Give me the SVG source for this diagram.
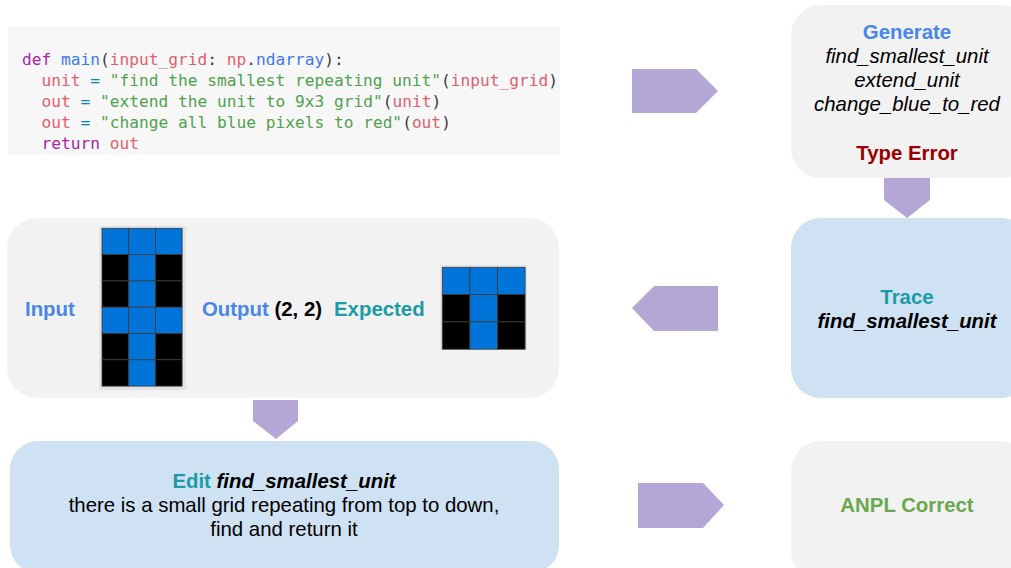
<svg xmlns="http://www.w3.org/2000/svg" width="1011" height="568" viewBox="0 0 1011 568">
  <style>
    .code { font-family: "DejaVu Sans Mono", "Liberation Mono", monospace; font-size: 16.2px; fill: #383a42; }
    .kw { fill: #a626a4; }
    .fn { fill: #4078f2; }
    .var { fill: #e0606e; }
    .op { fill: #0184bc; }
    .str { fill: #50a14f; }
    .lbl { font-family: "Liberation Sans", Arial, sans-serif; font-size: 20.4px; fill: #000; }
    .b { font-weight: bold; }
    .i { font-style: italic; }
    .mid { text-anchor: middle; }
    .blue { fill: #4a86e8; }
    .teal { fill: #1b9ba6; }
    .red { fill: #990000; }
    .green { fill: #6aa84f; }
    .grey-box { fill: #f2f2f2; }
    .blue-box { fill: #cfe2f3; }
    .arrow { fill: #b4a7d6; }
    .cb { fill: #0074d9; stroke: #3a3a3a; stroke-width: 0.8; }
    .ck { fill: #000; stroke: #3a3a3a; stroke-width: 0.8; }
    .frame { fill: #e4e4e4; }
  </style>

  <!-- program sketch -->
  <g id="code">
    <rect x="8" y="27" width="552" height="128" fill="#f7f7f7"/>
    <text class="code" x="22" y="65"><tspan class="kw">def</tspan> <tspan class="fn">main</tspan>(<tspan class="var">input_grid</tspan>: <tspan class="var">np</tspan>.<tspan class="fn">ndarray</tspan>):</text>
    <text class="code" x="22" y="86" xml:space="preserve">  <tspan class="var">unit</tspan> <tspan class="op">=</tspan> <tspan class="str">"find the smallest repeating unit"</tspan>(<tspan class="var">input_grid</tspan>)</text>
    <text class="code" x="22" y="107" xml:space="preserve">  <tspan class="var">out</tspan> <tspan class="op">=</tspan> <tspan class="str">"extend the unit to 9x3 grid"</tspan>(<tspan class="var">unit</tspan>)</text>
    <text class="code" x="22" y="128" xml:space="preserve">  <tspan class="var">out</tspan> <tspan class="op">=</tspan> <tspan class="str">"change all blue pixels to red"</tspan>(<tspan class="var">out</tspan>)</text>
    <text class="code" x="22" y="149" xml:space="preserve">  <tspan class="kw">return</tspan> <tspan class="var">out</tspan></text>
  </g>

  <!-- generate step -->
  <g id="generate">
    <rect class="grey-box" x="791" y="5" width="240" height="173" rx="30"/>
    <text class="lbl b blue mid" x="907" y="39">Generate</text>
    <text class="lbl i mid" x="907" y="63">find_smallest_unit</text>
    <text class="lbl i mid" x="907" y="87">extend_unit</text>
    <text class="lbl i mid" x="907" y="111">change_blue_to_red</text>
    <text class="lbl b red mid" x="907" y="160">Type Error</text>
  </g>

  <!-- trace step -->
  <g id="trace">
    <rect class="blue-box" x="791" y="218" width="240" height="180" rx="30"/>
    <text class="lbl b teal mid" x="907" y="304">Trace</text>
    <text class="lbl b i mid" x="907" y="328">find_smallest_unit</text>
  </g>

  <!-- input / output comparison -->
  <g id="compare">
    <rect class="grey-box" x="7" y="218" width="552" height="180" rx="30"/>
    <text class="lbl b blue" x="25" y="316">Input</text>
    <rect class="frame" x="99" y="226" width="87" height="164"/>
    <g>
      <rect class="cb" x="102" y="228.3" width="26.7" height="26.3"/>
      <rect class="cb" x="128.7" y="228.3" width="26.7" height="26.3"/>
      <rect class="cb" x="155.4" y="228.3" width="26.7" height="26.3"/>
      <rect class="ck" x="102" y="254.6" width="26.7" height="26.3"/>
      <rect class="cb" x="128.7" y="254.6" width="26.7" height="26.3"/>
      <rect class="ck" x="155.4" y="254.6" width="26.7" height="26.3"/>
      <rect class="ck" x="102" y="280.9" width="26.7" height="26.3"/>
      <rect class="cb" x="128.7" y="280.9" width="26.7" height="26.3"/>
      <rect class="ck" x="155.4" y="280.9" width="26.7" height="26.3"/>
      <rect class="cb" x="102" y="307.2" width="26.7" height="26.3"/>
      <rect class="cb" x="128.7" y="307.2" width="26.7" height="26.3"/>
      <rect class="cb" x="155.4" y="307.2" width="26.7" height="26.3"/>
      <rect class="ck" x="102" y="333.5" width="26.7" height="26.3"/>
      <rect class="cb" x="128.7" y="333.5" width="26.7" height="26.3"/>
      <rect class="ck" x="155.4" y="333.5" width="26.7" height="26.3"/>
      <rect class="ck" x="102" y="359.8" width="26.7" height="26.3"/>
      <rect class="cb" x="128.7" y="359.8" width="26.7" height="26.3"/>
      <rect class="ck" x="155.4" y="359.8" width="26.7" height="26.3"/>
    </g>
    <text class="lbl b" x="202" y="316"><tspan class="blue">Output</tspan> (2, 2)  <tspan class="teal" x="334">Expected</tspan></text>
    <rect class="frame" x="440" y="265" width="87" height="85"/>
    <g>
      <rect class="cb" x="442.3" y="267.3" width="27.6" height="27.3"/>
      <rect class="cb" x="469.9" y="267.3" width="27.6" height="27.3"/>
      <rect class="cb" x="497.5" y="267.3" width="27.6" height="27.3"/>
      <rect class="ck" x="442.3" y="294.6" width="27.6" height="27.3"/>
      <rect class="cb" x="469.9" y="294.6" width="27.6" height="27.3"/>
      <rect class="ck" x="497.5" y="294.6" width="27.6" height="27.3"/>
      <rect class="ck" x="442.3" y="321.9" width="27.6" height="27.3"/>
      <rect class="cb" x="469.9" y="321.9" width="27.6" height="27.3"/>
      <rect class="ck" x="497.5" y="321.9" width="27.6" height="27.3"/>
    </g>
  </g>

  <!-- edit step -->
  <g id="edit">
    <rect class="blue-box" x="10" y="441" width="549" height="132" rx="28"/>
    <text class="lbl mid" x="284" y="488"><tspan class="b teal">Edit</tspan> <tspan class="b i">find_smallest_unit</tspan></text>
    <text class="lbl mid" x="284" y="512">there is a small grid repeating from top to down,</text>
    <text class="lbl mid" x="284" y="536">find and return it</text>
  </g>

  <!-- result -->
  <g id="correct">
    <rect class="grey-box" x="791" y="441" width="240" height="140" rx="30"/>
    <text class="lbl b green mid" x="907" y="512">ANPL Correct</text>
  </g>

  <!-- block arrows between steps -->
  <g id="connectors">
    <polygon class="arrow" points="632,69 696,69 718,91 696,113 632,113"/>
    <polygon class="arrow" points="884,178 930,178 930,200 907,218 884,200"/>
    <polygon class="arrow" points="718,286 654,286 632,308 654,331 718,331"/>
    <polygon class="arrow" points="253,400 298,400 298,421 276,439 253,421"/>
    <polygon class="arrow" points="638,483 703,483 724,505 703,528 638,528"/>
  </g>
</svg>
